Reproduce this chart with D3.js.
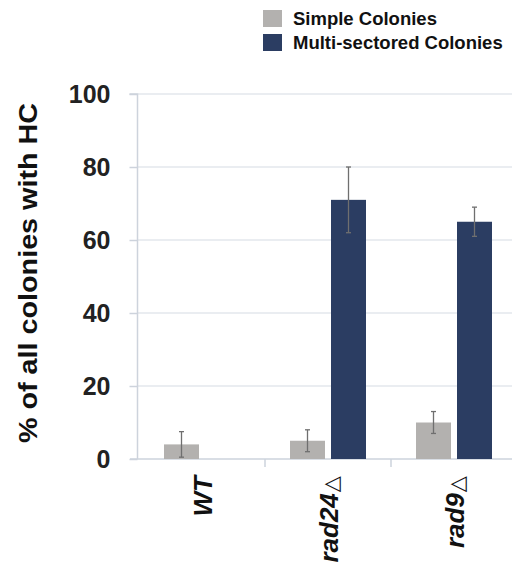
<!DOCTYPE html>
<html><head><meta charset="utf-8">
<script src="https://cdn.jsdelivr.net/npm/d3@7"></script>
<style>body{margin:0;background:#fff;}svg{display:block;font-family:"Liberation Sans",Arial,sans-serif;}</style>
</head><body>
<svg id="c" width="512" height="567"></svg>
<script>
const categories = ["WT", "rad24", "rad9"];
const series = ["Simple Colonies", "Multi-sectored Colonies"];
const simpleValues = [4, 5, 10];
const simpleErrors = [3.5, 3, 3];
const multiValues = [null, 71, 65];
const multiErrors = [null, 9, 4];
const yTicks = [0, 20, 40, 60, 80, 100];
const colors = ["#b3b1af", "#2b3d62"];

const svg = d3.select("#c");
const y = d3.scaleLinear().domain([0, 100]).range([459, 94]);
const x = d3.scaleBand().domain(categories).range([139, 517]).padding(0);
const xs = d3.scaleBand().domain(series).range([25, 101]).paddingInner(6/41).paddingOuter(0);

// gridlines
svg.append("g").selectAll("line").data(yTicks.filter(d => d > 0)).join("line")
  .attr("x1", 138).attr("x2", 512).attr("y1", d => y(d)).attr("y2", d => y(d))
  .attr("stroke", "#e3e7ed").attr("stroke-width", 1.5);

// y axis
const yAxis = d3.axisLeft(y).tickValues(yTicks).tickSize(8).tickPadding(19).tickFormat(d3.format("d"));
const gy = svg.append("g").attr("transform", "translate(137.5,0)").call(yAxis);
gy.select(".domain").attr("stroke", "#cdd3dc").attr("stroke-width", 1.5).attr("d", `M-8,${y(100)}H0V${y(0)}`);
gy.selectAll(".tick line").attr("stroke", "#cdd3dc").attr("stroke-width", 1.5);
gy.selectAll(".tick text").attr("font-size", 25).attr("font-weight", "bold").attr("fill", "#222")
  .attr("font-family", "Liberation Sans, Arial, sans-serif");

// x axis line
svg.append("line").attr("x1", 130).attr("x2", 512).attr("y1", y(0)).attr("y2", y(0))
  .attr("stroke", "#cdd3dc").attr("stroke-width", 1.5);
svg.append("g").selectAll("line").data(categories.slice(1)).join("line")
  .attr("x1", d => x(d)).attr("x2", d => x(d)).attr("y1", y(0)).attr("y2", y(0) + 8)
  .attr("stroke", "#cdd3dc").attr("stroke-width", 1.5);

// bars
const rows = [];
categories.forEach((c, i) => {
  rows.push({c, s: series[0], v: simpleValues[i], e: simpleErrors[i], col: colors[0]});
  if (multiValues[i] != null) rows.push({c, s: series[1], v: multiValues[i], e: multiErrors[i], col: colors[1]});
});
const bx = d => x(d.c) + xs(d.s);
svg.append("g").selectAll("rect").data(rows).join("rect")
  .attr("x", bx).attr("width", xs.bandwidth())
  .attr("y", d => y(d.v)).attr("height", d => y(0) - y(d.v))
  .attr("fill", d => d.col);

// error bars
const eg = svg.append("g").attr("stroke", "#6f6f6f").attr("stroke-width", 1.3);
rows.forEach(d => {
  const cx = bx(d) + xs.bandwidth() / 2;
  const lo = Math.max(0, d.v - d.e), hi = d.v + d.e;
  eg.append("line").attr("x1", cx).attr("x2", cx).attr("y1", y(lo)).attr("y2", y(hi));
  eg.append("line").attr("x1", cx - 2.5).attr("x2", cx + 2.5).attr("y1", y(hi)).attr("y2", y(hi));
  eg.append("line").attr("x1", cx - 2.5).attr("x2", cx + 2.5).attr("y1", y(lo)).attr("y2", y(lo));
});

// x labels
const xl = svg.append("g").selectAll("text").data(categories).join("text")
  .attr("transform", d => `translate(${x(d) + x.bandwidth() / 2 + 10},476) rotate(-90)`)
  .attr("text-anchor", "end").attr("font-size", 26).attr("font-weight", "bold")
  .attr("font-style", "italic").attr("fill", "#111");
xl.append("tspan").text(d => d);
xl.filter(d => d !== "WT").append("tspan").attr("font-weight", "normal").attr("font-style", "normal")
  .attr("font-family", "DejaVu Sans, sans-serif").attr("font-size", 21).attr("dx", 1).text("\u25B3");

// y title
svg.append("text").attr("transform", "translate(37,273) rotate(-90)")
  .attr("text-anchor", "middle").attr("font-size", 25).attr("font-weight", "bold").attr("fill", "#111")
  .attr("textLength", 340).attr("lengthAdjust", "spacingAndGlyphs")
  .text("% of all colonies with HC");

// legend
const lg = svg.append("g").selectAll("g").data(series).join("g")
  .attr("transform", (d, i) => `translate(263,${10 + i * 24})`);
lg.append("rect").attr("width", 19).attr("height", 17).attr("fill", (d, i) => colors[i]);
lg.append("text").attr("x", 30).attr("y", 15).attr("font-size", 18.5).attr("font-weight", "bold")
  .attr("fill", "#111").text(d => d);
</script>
</body></html>
